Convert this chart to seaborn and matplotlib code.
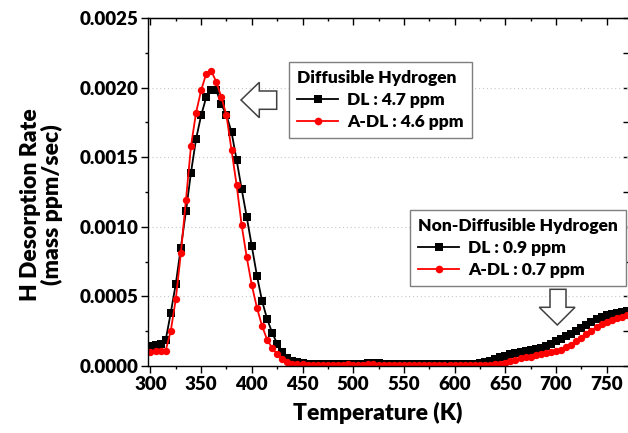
import matplotlib
matplotlib.use('Agg')
import matplotlib.pyplot as plt
import seaborn as sns
import pandas as pd
from matplotlib.ticker import MultipleLocator, FormatStrFormatter
from matplotlib.patches import Polygon
from matplotlib.lines import Line2D

# ---------------- data ----------------
temperature = list(range(300, 775, 5))  # K, sampling grid

dl_rate = [
    0.000145, 0.000148, 0.000155, 0.000185, 0.000380, 0.000590, 0.000850, 0.001110,
    0.001390, 0.001630, 0.001800, 0.001930, 0.001980, 0.001980, 0.001880, 0.001800,
    0.001680, 0.001480, 0.001270, 0.001070, 0.000860, 0.000650, 0.000470, 0.000340,
    0.000240, 0.000160, 0.000100, 0.000060, 0.000038, 0.000026, 0.000019, 0.000015,
    0.000013, 0.000012, 0.000012, 0.000011, 0.000012, 0.000012, 0.000013, 0.000014,
    0.000013, 0.000014, 0.000016, 0.000018, 0.000020, 0.000019, 0.000016, 0.000014,
    0.000013, 0.000012, 0.000012, 0.000011, 0.000011, 0.000011, 0.000011, 0.000011,
    0.000011, 0.000011, 0.000011, 0.000012, 0.000012, 0.000012, 0.000013, 0.000014,
    0.000016, 0.000019, 0.000027, 0.000038, 0.000050, 0.000062, 0.000074, 0.000085,
    0.000094, 0.000101, 0.000107, 0.000112, 0.000119, 0.000128, 0.000141, 0.000158,
    0.000177, 0.000196, 0.000214, 0.000232, 0.000252, 0.000275, 0.000298, 0.000318,
    0.000337, 0.000352, 0.000365, 0.000376, 0.000384, 0.000389, 0.000392,
]

adl_rate = [
    0.000103, 0.000108, 0.000107, 0.000110, 0.000250, 0.000480, 0.000810, 0.001190,
    0.001580, 0.001820, 0.001980, 0.002100, 0.002120, 0.002040, 0.001930, 0.001800,
    0.001550, 0.001300, 0.001010, 0.000780, 0.000580, 0.000420, 0.000290, 0.000190,
    0.000130, 0.000085, 0.000050, 0.000027, 0.000017, 0.000012, 0.000011, 0.000010,
    0.000010, 0.000010, 0.000010, 0.000010, 0.000010, 0.000010, 0.000010, 0.000011,
    0.000010, 0.000010, 0.000010, 0.000011, 0.000011, 0.000010, 0.000010, 0.000010,
    0.000010, 0.000010, 0.000010, 0.000010, 0.000010, 0.000010, 0.000010, 0.000010,
    0.000010, 0.000010, 0.000010, 0.000010, 0.000010, 0.000010, 0.000010, 0.000010,
    0.000010, 0.000010, 0.000010, 0.000010, 0.000011, 0.000014, 0.000022, 0.000034,
    0.000046, 0.000055, 0.000062, 0.000068, 0.000076, 0.000084, 0.000092, 0.000098,
    0.000105, 0.000117, 0.000134, 0.000154, 0.000178, 0.000203, 0.000227, 0.000254,
    0.000280, 0.000301, 0.000318, 0.000333, 0.000345, 0.000355, 0.000364,
]

samples = ['DL', 'A-DL']
diffusible_labels = ['DL : 4.7 ppm', 'A-DL : 4.6 ppm']
nondiffusible_labels = ['DL : 0.9 ppm', 'A-DL : 0.7 ppm']
x_ticks = [300, 350, 400, 450, 500, 550, 600, 650, 700, 750]
y_ticks = [0.0, 0.0005, 0.0010, 0.0015, 0.0020, 0.0025]

# ---------------- figure ----------------
plt.rcParams['font.family'] = ['Lato', 'DejaVu Sans']
FW = 'heavy'
plt.rcParams['font.weight'] = FW

W, H = 628, 433
fig = plt.figure(figsize=(W / 100, H / 100), dpi=100)
ax = fig.add_axes([148 / W, 1 - 366 / H, (630 - 148) / W, (366 - 18) / H])

df = pd.DataFrame({
    'Temperature': temperature * 2,
    'Rate': dl_rate + adl_rate,
    'Sample': ['DL'] * len(temperature) + ['A-DL'] * len(temperature),
})
colors = {'DL': 'black', 'A-DL': '#ff0000'}
markers = {'DL': 's', 'A-DL': 'o'}

sns.lineplot(data=df, x='Temperature', y='Rate', hue='Sample', style='Sample',
             hue_order=samples, style_order=samples, palette=colors,
             markers=markers, dashes=False, estimator=None, sort=True,
             markersize=5.3, markeredgewidth=0, linewidth=1.3,
             legend=False, ax=ax)

ax.set_xlim(297.6, 773)
ax.set_ylim(0, 0.0025)
ax.set_xticks(x_ticks)
ax.set_yticks(y_ticks)
ax.xaxis.set_minor_locator(MultipleLocator(25))
ax.yaxis.set_minor_locator(MultipleLocator(0.00025))
ax.yaxis.set_major_formatter(FormatStrFormatter('%.4f'))

for s in ax.spines.values():
    s.set_linewidth(1.0)
    s.set_color('black')

ax.tick_params(which='major', direction='out', length=5, width=1.0,
               labelsize=13.5, pad=2)
ax.tick_params(which='minor', direction='out', length=2.5, width=1.0)
for lab in ax.get_xticklabels() + ax.get_yticklabels():
    lab.set_fontweight(FW)

# inward ticks on top and right
top = ax.secondary_xaxis('top')
top.set_xticks(x_ticks)
top.xaxis.set_minor_locator(MultipleLocator(25))
top.tick_params(which='major', direction='in', length=5, width=1.0, labeltop=False)
top.tick_params(which='minor', direction='in', length=2.5, width=1.0)
right = ax.secondary_yaxis('right')
right.set_yticks(y_ticks)
right.yaxis.set_minor_locator(MultipleLocator(0.00025))
right.tick_params(which='both', direction='in', length=5, width=1.0, labelright=False)

ax.yaxis.grid(True, which='major', linestyle=(0, (1, 2.5)), color='#c8c8c8', linewidth=0.8)
ax.set_axisbelow(True)

ax.set_xlabel('Temperature (K)', fontsize=16.5, fontweight=FW)
ax.set_ylabel('H Desorption Rate\n(mass ppm/sec)', fontsize=16.5, fontweight=FW,
              linespacing=1.0)
ax.xaxis.set_label_coords((378 - 148) / 482, (366 - 402) / 348)
ax.yaxis.set_label_coords((63 - 148) / 482, (366 - 205) / 348)

# ---------------- legends ----------------
handles = [Line2D([], [], color=colors[s], marker=markers[s], markersize=5.5,
                  markeredgewidth=0, linewidth=1.3) for s in samples]

def make_legend(labels, title, left_px, top_px):
    leg = ax.legend(handles, labels, title=title, loc='upper left',
                    bbox_to_anchor=(left_px / W, 1 - top_px / H),
                    bbox_transform=fig.transFigure, borderaxespad=0,
                    frameon=True, fancybox=False, framealpha=1,
                    edgecolor='#7f7f7f', fontsize=12.5, title_fontsize=12.5,
                    handlelength=2.4, handletextpad=0.5, numpoints=1,
                    alignment='left', borderpad=0.45, labelspacing=0.35)
    leg.get_frame().set_linewidth(1.0)
    leg.get_title().set_fontweight(FW)
    for t in leg.get_texts():
        t.set_fontweight(FW)
    return leg

leg1 = make_legend(diffusible_labels, 'Diffusible Hydrogen', 289, 62)
ax.add_artist(leg1)
leg2 = make_legend(nondiffusible_labels, 'Non-Diffusible Hydrogen', 410, 210)

# ---------------- hollow block arrows ----------------
def px(pts):
    return [(x / W, 1 - y / H) for x, y in pts]

left_arrow = [(241, 100), (259.3, 82.3), (259.3, 91), (276.7, 91),
              (276.7, 109.3), (259.3, 109.3), (259.3, 117.7)]
down_arrow = [(557.3, 325), (539.3, 307.3), (550, 307.3), (550, 289.3),
              (566, 289.3), (566, 307.3), (575, 307.3)]
for pts in (left_arrow, down_arrow):
    fig.patches.append(Polygon(px(pts), closed=True, transform=fig.transFigure,
                               facecolor='white', edgecolor='#404040',
                               linewidth=1.1, zorder=5))

fig.savefig('out.png', dpi=100)
